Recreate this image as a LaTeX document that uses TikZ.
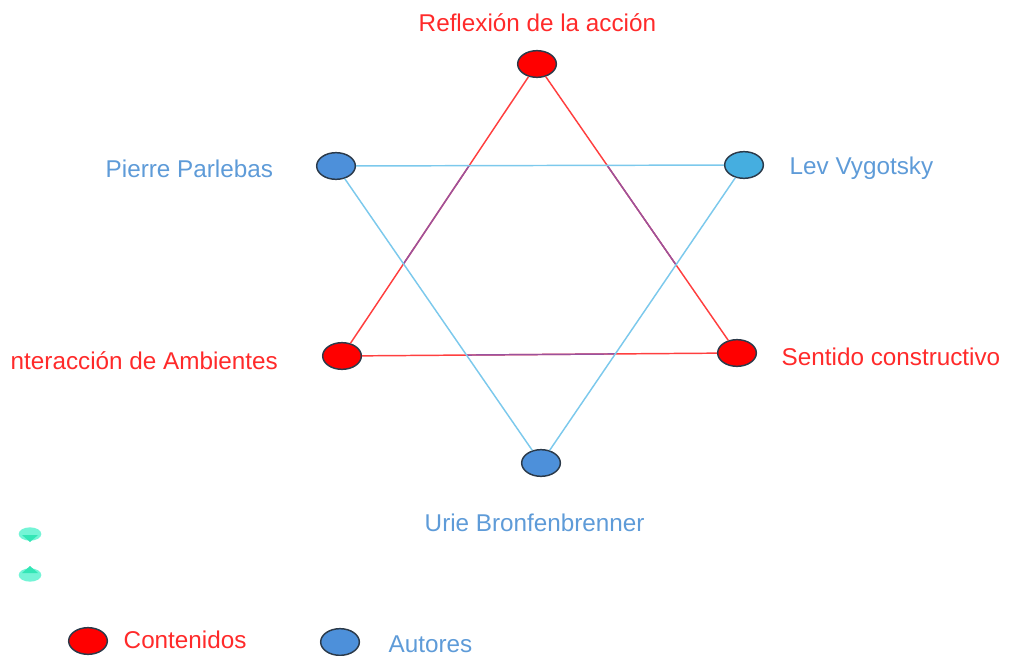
\documentclass[tikz,border=0pt]{standalone}
\usepackage{fontspec}
\setmainfont{Liberation Sans}
\usetikzlibrary{shapes.geometric}
\definecolor{contred}{HTML}{FF0000}
\definecolor{autblue}{HTML}{4D90DA}
\definecolor{autlight}{HTML}{45AEE0}
\definecolor{edgedark}{HTML}{2B3A4A}
\definecolor{linered}{HTML}{FF3F3F}
\definecolor{lineblue}{HTML}{7CC9EC}
\definecolor{linepurple}{HTML}{9A529E}
\definecolor{txtred}{HTML}{FF2A2A}
\definecolor{txtblue}{HTML}{5E9BD8}
\definecolor{mintlight}{HTML}{74F4D6}
\definecolor{mintdark}{HTML}{33E6B6}

\begin{document}
\begin{tikzpicture}[x=0.75pt,y=-0.75pt,line width=1.1pt]
    \tikzstyle{punto}=[ellipse,draw=edgedark,line width=1.1pt,minimum width=29pt,minimum height=20pt,inner sep=0pt]
    \tikzstyle{contenido}=[punto, fill=contred]
    \tikzstyle{autor}=[punto, fill=autblue]
    \tikzstyle{rotulo}=[font=\fontsize{18.2}{22}\selectfont, anchor=base west, inner sep=0pt]

    \useasboundingbox (0,0) rectangle (1009,656);

    % Draw the contenidos (red)
    \foreach \name / \x / \y in {1/537/64, 2/342/356, 3/737/353}
        \node[contenido] (C-\name) at (\x,\y) {};

    % Draw the autores (blue)
    \node[autor] (A-1) at (336,166) {};
    \node[autor, fill=autlight] (A-2) at (744,165) {};
    \node[autor] (A-3) at (541,463) {};

    % Connect the contenidos, purple inside the autores triangle
    \foreach \source / \dest in {1/2, 1/3, 2/3}
        \draw[linered] (C-\source) -- (C-\dest);
    \begin{scope}
        \clip (A-1.center) -- (A-2.center) -- (A-3.center) -- cycle;
        \draw[linepurple] (C-1.center) -- (C-2.center) -- (C-3.center) -- cycle;
    \end{scope}

    % Connect the autores
    \foreach \source / \dest in {1/2, 1/3, 2/3}
        \draw[lineblue] (A-\source) -- (A-\dest);

    % Labels
    \node[rotulo, text=txtred] (l-C-1) at (418,32) {Reflexión de la acción};
    \node[rotulo, text=txtred] (l-C-2) at (10,369) {nteracción de Ambientes};
    \node[rotulo, text=txtred] (l-C-3) at (781,365) {Sentido constructivo};
    \node[rotulo, text=txtblue] (l-A-1) at (105,177) {Pierre Parlebas};
    \node[rotulo, text=txtblue] (l-A-2) at (789,175) {Lev Vygotsky};
    \node[rotulo, text=txtblue] (l-A-3) at (424,531) {Urie Bronfenbrenner};

    % Small marks on the left
    \fill[mintlight] (30,534) ellipse [x radius=8.5pt, y radius=5pt];
    \fill[mintdark] (22,535) -- (38,535) -- (30,542) -- cycle;
    \fill[mintlight] (30,575) ellipse [x radius=8.5pt, y radius=5pt];
    \fill[mintdark] (22,573) -- (38,573) -- (30,566) -- cycle;

    % Legend
    \node[contenido] (ley-C) at (88,641) {};
    \node[rotulo, text=txtred] (ley-C-txt) at (123,648) {Contenidos};
    \node[autor] (ley-A) at (340,642) {};
    \node[rotulo, text=txtblue] (ley-A-txt) at (388,652) {Autores};
\end{tikzpicture}
\end{document}
